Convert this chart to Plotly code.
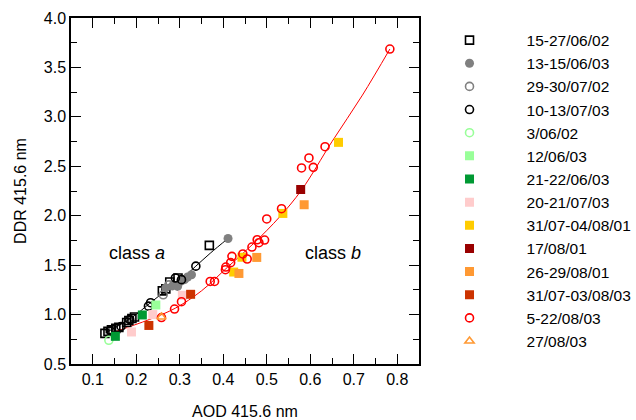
import plotly.graph_objects as go

# ---- data ----
sq_black_x = [0.128, 0.135, 0.143, 0.153, 0.160, 0.178, 0.183, 0.190, 0.196, 0.260, 0.268, 0.277, 0.296, 0.368]
sq_black_y = [0.810, 0.830, 0.845, 0.860, 0.870, 0.920, 0.940, 0.960, 0.975, 1.240, 1.260, 1.330, 1.370, 1.700]

gray_fill_x = [0.268, 0.283, 0.295, 0.302, 0.311, 0.318, 0.327, 0.411]
gray_fill_y = [1.270, 1.290, 1.285, 1.336, 1.353, 1.380, 1.403, 1.770]

gray_open_x = [0.262, 0.275]
gray_open_y = [1.200, 1.300]

circ_black_x = [0.140, 0.165, 0.185, 0.228, 0.233, 0.290, 0.304, 0.337]
circ_black_y = [0.840, 0.880, 0.950, 1.085, 1.120, 1.370, 1.353, 1.490]

circ_lgreen_x = [0.137]
circ_lgreen_y = [0.740]

sq_lgreen_x = [0.245]
sq_lgreen_y = [1.097]

sq_dgreen_x = [0.152, 0.214]
sq_dgreen_y = [0.780, 0.996]

sq_pink_x = [0.189, 0.238, 0.306]
sq_pink_y = [0.824, 1.000, 1.195]

sq_yellow_x = [0.424, 0.443, 0.537, 0.665]
sq_yellow_y = [1.430, 1.580, 2.023, 2.742]

sq_dred_x = [0.578]
sq_dred_y = [2.265]

sq_orange_x = [0.436, 0.477, 0.586]
sq_orange_y = [1.416, 1.578, 2.111]

sq_rorange_x = [0.229, 0.325]
sq_rorange_y = [0.890, 1.205]

circ_red_x = [0.258, 0.288, 0.304, 0.370, 0.380, 0.405, 0.406, 0.417, 0.420, 0.445, 0.455,
              0.466, 0.478, 0.482, 0.495, 0.500, 0.534, 0.580, 0.597, 0.607, 0.634, 0.783]
circ_red_y = [0.970, 1.056, 1.130, 1.335, 1.335, 1.454, 1.481, 1.525, 1.589, 1.613, 1.562,
              1.683, 1.757, 1.727, 1.754, 1.967, 2.071, 2.483, 2.584, 2.489, 2.698, 3.686]

tri_orange_x = [0.258]
tri_orange_y = [0.975]

fit_a_x = [0.129, 0.190, 0.230, 0.270, 0.304, 0.337, 0.370, 0.411]
fit_a_y = [0.814, 0.970, 1.110, 1.250, 1.360, 1.490, 1.620, 1.770]

fit_b_x = [0.140, 0.230, 0.290, 0.350, 0.410, 0.470, 0.530, 0.580, 0.650, 0.720, 0.783]
fit_b_y = [0.810, 0.950, 1.065, 1.240, 1.480, 1.720, 1.990, 2.260, 2.750, 3.220, 3.686]

labels = ["15-27/06/02", "13-15/06/03", "29-30/07/02", "10-13/07/03", "3/06/02", "12/06/03",
          "21-22/06/03", "20-21/07/03", "31/07-04/08/01", "17/08/01", "26-29/08/01",
          "31/07-03/08/03", "5-22/08/03", "27/08/03"]

x_ticks = [0.1, 0.2, 0.3, 0.4, 0.5, 0.6, 0.7, 0.8]
y_ticks = [0.5, 1.0, 1.5, 2.0, 2.5, 3.0, 3.5, 4.0]

# ---- figure ----
fig = go.Figure()

fig.add_trace(go.Scatter(x=fit_a_x, y=fit_a_y, mode="lines", line=dict(color="black", width=1, shape="spline"),
                         showlegend=False, hoverinfo="skip"))
fig.add_trace(go.Scatter(x=fit_b_x, y=fit_b_y, mode="lines", line=dict(color="#ff0000", width=1, shape="spline"),
                         showlegend=False, hoverinfo="skip"))

series = [
    (sq_black_x, sq_black_y, "square-open", "black", 8),
    (gray_fill_x, gray_fill_y, "circle", "#808080", 9),
    (gray_open_x, gray_open_y, "circle-open", "#808080", 8),
    (circ_black_x, circ_black_y, "circle-open", "black", 8),
    (circ_lgreen_x, circ_lgreen_y, "circle-open", "#99ff99", 8),
    (sq_lgreen_x, sq_lgreen_y, "square", "#99ff99", 9),
    (sq_dgreen_x, sq_dgreen_y, "square", "#009933", 9),
    (sq_pink_x, sq_pink_y, "square", "#ffcccc", 9),
    (sq_yellow_x, sq_yellow_y, "square", "#ffcc00", 9),
    (sq_dred_x, sq_dred_y, "square", "#990000", 9),
    (sq_orange_x, sq_orange_y, "square", "#ff9933", 9),
    (sq_rorange_x, sq_rorange_y, "square", "#cc3300", 9),
    (circ_red_x, circ_red_y, "circle-open", "#ff0000", 8),
    (tri_orange_x, tri_orange_y, "triangle-up-open", "#ff9933", 8),
]
for (xs, ys, sym, col, sz), name in zip(series, labels):
    fig.add_trace(go.Scatter(
        x=xs, y=ys, mode="markers", name=name,
        marker=dict(symbol=sym, color=col, size=sz, line=dict(color=col, width=1.6 if "open" in sym else 0)),
    ))

fig.add_annotation(x=0.201, y=1.626, text="class <i>a</i>", showarrow=False,
                   font=dict(size=18, color="black"))
fig.add_annotation(x=0.652, y=1.626, text="class <i>b</i>", showarrow=False,
                   font=dict(size=18, color="black"))

axis_common = dict(
    showline=True, linecolor="black", linewidth=1.5, mirror="ticks",
    ticks="inside", ticklen=10, tickwidth=1.2, tickcolor="black",
    showgrid=False, zeroline=False,
    tickfont=dict(size=16, color="black"),
)
fig.update_xaxes(range=[0.05, 0.85], tickvals=x_ticks, tickformat=".1f",
                 minor=dict(dtick=0.05, tick0=0.05, ticks="inside", ticklen=6, tickwidth=1.2, tickcolor="black"),
                 title=dict(text="AOD 415.6 nm", font=dict(size=16, color="black"), standoff=23),
                 **axis_common)
fig.update_yaxes(range=[0.5, 4.0], tickvals=y_ticks, tickformat=".1f",
                 minor=dict(dtick=0.25, tick0=0.5, ticks="inside", ticklen=6, tickwidth=1.2, tickcolor="black"),
                 title=dict(text="DDR 415.6 nm", font=dict(size=16, color="black"), standoff=13),
                 **axis_common)

fig.update_layout(
    width=636, height=420,
    margin=dict(l=71, r=217, t=18, b=56, autoexpand=False),
    plot_bgcolor="white", paper_bgcolor="white",
    font=dict(family="Liberation Sans, Arial, sans-serif", color="black"),
    legend=dict(xref="container", yref="container", x=0.6486, y=0.944, xanchor="left", yanchor="top",
                font=dict(size=15.5, color="black"), itemwidth=104, maxheight=410,
                bgcolor="rgba(0,0,0,0)"),
)

fig.write_html("out.html", config={"displayModeBar": False},
               post_script="document.body.style.margin='0';")
